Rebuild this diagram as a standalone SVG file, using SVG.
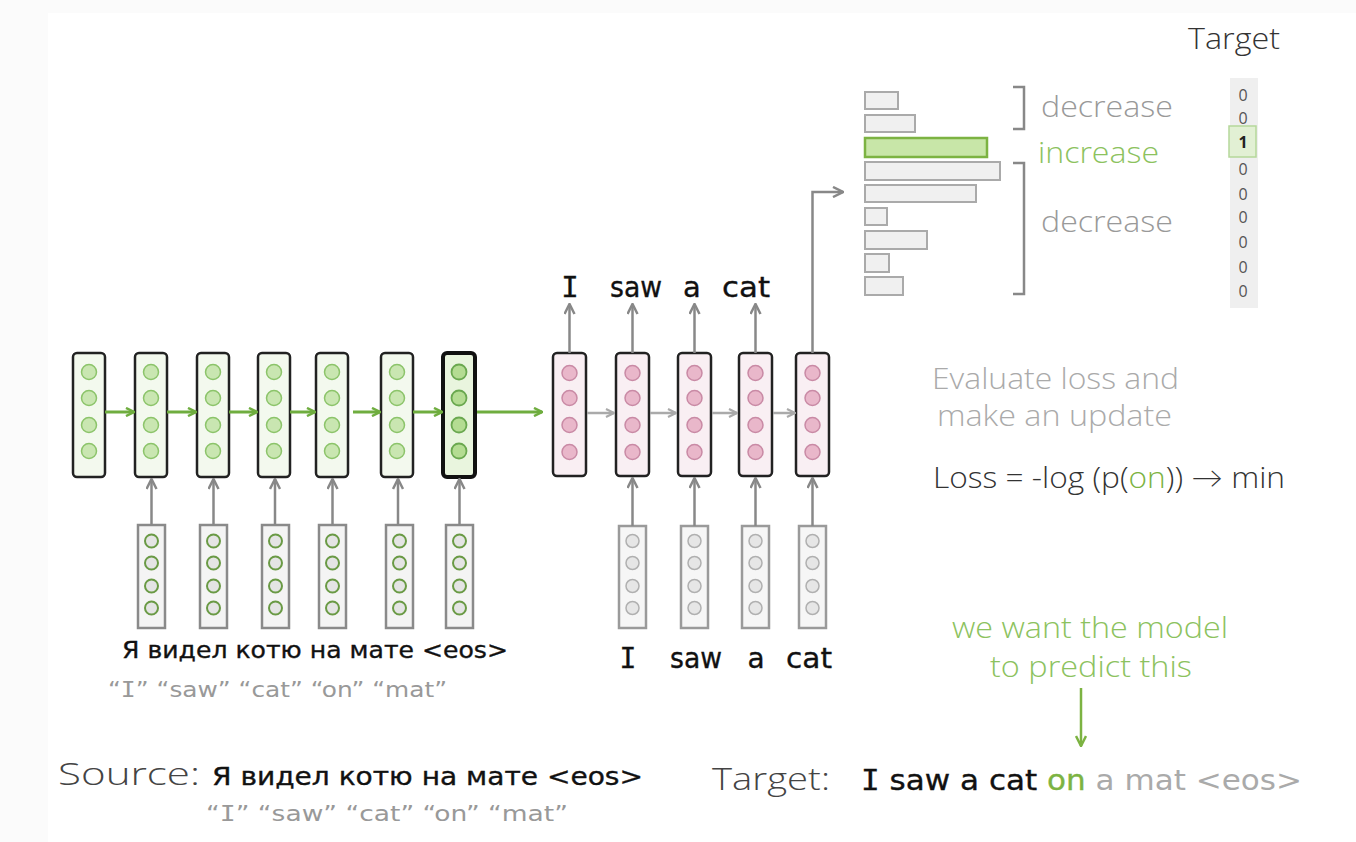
<svg xmlns="http://www.w3.org/2000/svg" width="1356" height="842" viewBox="0 0 1356 842">
<defs>
<style>
.comic{font-family:"DejaVu Sans","Liberation Sans",sans-serif;stroke-width:0.35px;}
.mono{font-family:"DejaVu Sans Mono","Liberation Mono",monospace;}
.light{font-family:"Open Sans","Lato","Liberation Sans",sans-serif;font-weight:300;}
.enc{fill:#f3f9ee;stroke:#222;stroke-width:2.5;}
.enclast{fill:#e9f5de;stroke:#111;stroke-width:4;}
.dec{fill:#f9eff3;stroke:#222;stroke-width:2.5;}
.gc{fill:#c9e6b1;stroke:#8cc46a;stroke-width:1.5;}
.gcd{fill:#b4dc92;stroke:#6aa84f;stroke-width:1.8;}
.pc{fill:#e9b7ca;stroke:#c98aa5;stroke-width:1.5;}
.inE{fill:#f4f4f4;stroke:#8a8a8a;stroke-width:2.5;}
.inD{fill:#f6f6f6;stroke:#9a9a9a;stroke-width:2.5;}
.ec{fill:#e4e4e4;stroke:#6a9a45;stroke-width:2;}
.dc{fill:#e6e6e6;stroke:#b0b0b0;stroke-width:1.5;}
.ga{stroke:#6fad3f;stroke-width:3;fill:none;marker-end:url(#ag);}
.gra{stroke:#aaaaaa;stroke-width:2.5;fill:none;marker-end:url(#agr);}
.up{stroke:#888;stroke-width:2.5;fill:none;marker-end:url(#aup);}
.bar{fill:#f0f0f0;stroke:#aaa;stroke-width:2;}
.brk{fill:none;stroke:#888;stroke-width:2.5;}
.zero{font-family:"Open Sans","Liberation Sans",sans-serif;font-size:16px;fill:#555;text-anchor:middle;}
</style>
<marker id="ag" viewBox="0 0 10 10" refX="9" refY="5" markerWidth="10" markerHeight="10" markerUnits="userSpaceOnUse" orient="auto">
<path d="M1,1 L9,5 L1,9" fill="none" stroke="#6fad3f" stroke-width="2.5"/>
</marker>
<marker id="agr" viewBox="0 0 10 10" refX="9" refY="5" markerWidth="10" markerHeight="10" markerUnits="userSpaceOnUse" orient="auto">
<path d="M1,1 L9,5 L1,9" fill="none" stroke="#aaaaaa" stroke-width="2.2"/>
</marker>
<marker id="aup" viewBox="0 0 12 12" refX="11" refY="6" markerWidth="12" markerHeight="12" markerUnits="userSpaceOnUse" orient="auto">
<path d="M1,1 L11,6 L1,11" fill="none" stroke="#888" stroke-width="2.5"/>
</marker>
<marker id="adn" viewBox="0 0 12 12" refX="11" refY="6" markerWidth="12" markerHeight="12" markerUnits="userSpaceOnUse" orient="auto">
<path d="M1,1 L11,6 L1,11" fill="none" stroke="#7cb342" stroke-width="2.5"/>
</marker>
</defs>

<rect x="0" y="0" width="1356" height="842" fill="#fbfbfb"/>
<rect x="48" y="13" width="1308" height="829" fill="#ffffff"/>

<!-- encoder hidden cells -->
<g id="enc1"><rect class="enc" x="73" y="353" width="32" height="124" rx="4"/><circle class="gc" cx="89" cy="372" r="7.5"/><circle class="gc" cx="89" cy="398" r="7.5"/><circle class="gc" cx="89" cy="425" r="7.5"/><circle class="gc" cx="89" cy="451" r="7.5"/></g>
<g id="enc2"><rect class="enc" x="135" y="353" width="32" height="124" rx="4"/><circle class="gc" cx="151" cy="372" r="7.5"/><circle class="gc" cx="151" cy="398" r="7.5"/><circle class="gc" cx="151" cy="425" r="7.5"/><circle class="gc" cx="151" cy="451" r="7.5"/></g>
<g id="enc3"><rect class="enc" x="197" y="353" width="32" height="124" rx="4"/><circle class="gc" cx="213" cy="372" r="7.5"/><circle class="gc" cx="213" cy="398" r="7.5"/><circle class="gc" cx="213" cy="425" r="7.5"/><circle class="gc" cx="213" cy="451" r="7.5"/></g>
<g id="enc4"><rect class="enc" x="258" y="353" width="32" height="124" rx="4"/><circle class="gc" cx="274" cy="372" r="7.5"/><circle class="gc" cx="274" cy="398" r="7.5"/><circle class="gc" cx="274" cy="425" r="7.5"/><circle class="gc" cx="274" cy="451" r="7.5"/></g>
<g id="enc5"><rect class="enc" x="316" y="353" width="32" height="124" rx="4"/><circle class="gc" cx="332" cy="372" r="7.5"/><circle class="gc" cx="332" cy="398" r="7.5"/><circle class="gc" cx="332" cy="425" r="7.5"/><circle class="gc" cx="332" cy="451" r="7.5"/></g>
<g id="enc6"><rect class="enc" x="381" y="353" width="32" height="124" rx="4"/><circle class="gc" cx="397" cy="372" r="7.5"/><circle class="gc" cx="397" cy="398" r="7.5"/><circle class="gc" cx="397" cy="425" r="7.5"/><circle class="gc" cx="397" cy="451" r="7.5"/></g>
<g id="enc7"><rect class="enclast" x="443" y="353" width="32" height="124" rx="4"/><circle class="gcd" cx="459" cy="372" r="7.5"/><circle class="gcd" cx="459" cy="398" r="7.5"/><circle class="gcd" cx="459" cy="425" r="7.5"/><circle class="gcd" cx="459" cy="451" r="7.5"/></g>

<!-- encoder inputs -->
<g id="ein1"><rect class="inE" x="138" y="525" width="27" height="103"/><circle class="ec" cx="151.5" cy="541" r="6.5"/><circle class="ec" cx="151.5" cy="563" r="6.5"/><circle class="ec" cx="151.5" cy="586" r="6.5"/><circle class="ec" cx="151.5" cy="608" r="6.5"/></g>
<g id="ein2"><rect class="inE" x="200" y="525" width="27" height="103"/><circle class="ec" cx="213.5" cy="541" r="6.5"/><circle class="ec" cx="213.5" cy="563" r="6.5"/><circle class="ec" cx="213.5" cy="586" r="6.5"/><circle class="ec" cx="213.5" cy="608" r="6.5"/></g>
<g id="ein3"><rect class="inE" x="262" y="525" width="27" height="103"/><circle class="ec" cx="275.5" cy="541" r="6.5"/><circle class="ec" cx="275.5" cy="563" r="6.5"/><circle class="ec" cx="275.5" cy="586" r="6.5"/><circle class="ec" cx="275.5" cy="608" r="6.5"/></g>
<g id="ein4"><rect class="inE" x="319" y="525" width="27" height="103"/><circle class="ec" cx="332.5" cy="541" r="6.5"/><circle class="ec" cx="332.5" cy="563" r="6.5"/><circle class="ec" cx="332.5" cy="586" r="6.5"/><circle class="ec" cx="332.5" cy="608" r="6.5"/></g>
<g id="ein5"><rect class="inE" x="386" y="525" width="27" height="103"/><circle class="ec" cx="399.5" cy="541" r="6.5"/><circle class="ec" cx="399.5" cy="563" r="6.5"/><circle class="ec" cx="399.5" cy="586" r="6.5"/><circle class="ec" cx="399.5" cy="608" r="6.5"/></g>
<g id="ein6"><rect class="inE" x="446" y="525" width="27" height="103"/><circle class="ec" cx="459.5" cy="541" r="6.5"/><circle class="ec" cx="459.5" cy="563" r="6.5"/><circle class="ec" cx="459.5" cy="586" r="6.5"/><circle class="ec" cx="459.5" cy="608" r="6.5"/></g>

<!-- decoder hidden cells -->
<g id="dec1"><rect class="dec" x="553" y="353" width="33" height="123" rx="4"/><circle class="pc" cx="569.5" cy="373" r="7.5"/><circle class="pc" cx="569.5" cy="398" r="7.5"/><circle class="pc" cx="569.5" cy="425" r="7.5"/><circle class="pc" cx="569.5" cy="452" r="7.5"/></g>
<g id="dec2"><rect class="dec" x="616" y="353" width="33" height="123" rx="4"/><circle class="pc" cx="632.5" cy="373" r="7.5"/><circle class="pc" cx="632.5" cy="398" r="7.5"/><circle class="pc" cx="632.5" cy="425" r="7.5"/><circle class="pc" cx="632.5" cy="452" r="7.5"/></g>
<g id="dec3"><rect class="dec" x="678" y="353" width="33" height="123" rx="4"/><circle class="pc" cx="694.5" cy="373" r="7.5"/><circle class="pc" cx="694.5" cy="398" r="7.5"/><circle class="pc" cx="694.5" cy="425" r="7.5"/><circle class="pc" cx="694.5" cy="452" r="7.5"/></g>
<g id="dec4"><rect class="dec" x="739" y="353" width="33" height="123" rx="4"/><circle class="pc" cx="755.5" cy="373" r="7.5"/><circle class="pc" cx="755.5" cy="398" r="7.5"/><circle class="pc" cx="755.5" cy="425" r="7.5"/><circle class="pc" cx="755.5" cy="452" r="7.5"/></g>
<g id="dec5"><rect class="dec" x="796" y="353" width="33" height="123" rx="4"/><circle class="pc" cx="812.5" cy="373" r="7.5"/><circle class="pc" cx="812.5" cy="398" r="7.5"/><circle class="pc" cx="812.5" cy="425" r="7.5"/><circle class="pc" cx="812.5" cy="452" r="7.5"/></g>

<!-- decoder inputs -->
<g id="din1"><rect class="inD" x="619" y="526" width="27" height="102"/><circle class="dc" cx="632.5" cy="541" r="6.5"/><circle class="dc" cx="632.5" cy="563" r="6.5"/><circle class="dc" cx="632.5" cy="586" r="6.5"/><circle class="dc" cx="632.5" cy="608" r="6.5"/></g>
<g id="din2"><rect class="inD" x="681" y="526" width="27" height="102"/><circle class="dc" cx="694.5" cy="541" r="6.5"/><circle class="dc" cx="694.5" cy="563" r="6.5"/><circle class="dc" cx="694.5" cy="586" r="6.5"/><circle class="dc" cx="694.5" cy="608" r="6.5"/></g>
<g id="din3"><rect class="inD" x="742" y="526" width="27" height="102"/><circle class="dc" cx="755.5" cy="541" r="6.5"/><circle class="dc" cx="755.5" cy="563" r="6.5"/><circle class="dc" cx="755.5" cy="586" r="6.5"/><circle class="dc" cx="755.5" cy="608" r="6.5"/></g>
<g id="din4"><rect class="inD" x="799" y="526" width="27" height="102"/><circle class="dc" cx="812.5" cy="541" r="6.5"/><circle class="dc" cx="812.5" cy="563" r="6.5"/><circle class="dc" cx="812.5" cy="586" r="6.5"/><circle class="dc" cx="812.5" cy="608" r="6.5"/></g>

<!-- connectors -->
<g id="connectors">
<line class="ga" x1="105" y1="412" x2="134" y2="412"/>
<line class="ga" x1="167" y1="412" x2="196" y2="412"/>
<line class="ga" x1="229" y1="412" x2="257" y2="412"/>
<line class="ga" x1="290" y1="412" x2="315" y2="412"/>
<line class="ga" x1="353" y1="412" x2="380" y2="412"/>
<line class="ga" x1="413" y1="412" x2="442" y2="412"/>
<line class="ga" x1="477" y1="412" x2="542" y2="412"/>
<line class="gra" x1="587" y1="413" x2="614" y2="413"/>
<line class="gra" x1="650" y1="413" x2="676" y2="413"/>
<line class="gra" x1="712" y1="413" x2="737" y2="413"/>
<line class="gra" x1="773" y1="413" x2="795" y2="413"/>
<line class="up" x1="151.5" y1="525" x2="151.5" y2="479"/>
<line class="up" x1="213.5" y1="525" x2="213.5" y2="479"/>
<line class="up" x1="275" y1="525" x2="275" y2="479"/>
<line class="up" x1="332.5" y1="525" x2="332.5" y2="479"/>
<line class="up" x1="398" y1="525" x2="398" y2="479"/>
<line class="up" x1="459.5" y1="525" x2="459.5" y2="479"/>
<line class="up" x1="632.5" y1="526" x2="632.5" y2="478"/>
<line class="up" x1="694.5" y1="526" x2="694.5" y2="478"/>
<line class="up" x1="755.5" y1="526" x2="755.5" y2="478"/>
<line class="up" x1="812.5" y1="526" x2="812.5" y2="478"/>
<line class="up" x1="569.5" y1="353" x2="569.5" y2="304"/>
<line class="up" x1="632.5" y1="353" x2="632.5" y2="304"/>
<line class="up" x1="694.5" y1="353" x2="694.5" y2="304"/>
<line class="up" x1="755.5" y1="353" x2="755.5" y2="304"/>
<path class="up" d="M812.5,353 V192 H843"/>
<line x1="1081" y1="688" x2="1081" y2="746" stroke="#7cb342" stroke-width="2.5" marker-end="url(#adn)"/>
</g>

<!-- decoder output words -->
<g id="outwords" class="comic" font-size="29" fill="#111" stroke="#111">
<text class="mono" x="570" y="297" text-anchor="middle">I</text>
<text x="636" y="297" text-anchor="middle" textLength="52" lengthAdjust="spacingAndGlyphs">saw</text>
<text x="692" y="297" text-anchor="middle">a</text>
<text x="746" y="297" text-anchor="middle" textLength="48" lengthAdjust="spacingAndGlyphs">cat</text>
</g>

<!-- decoder input words -->
<g id="inwords" class="comic" font-size="28" fill="#111" stroke="#111">
<text class="mono" x="628" y="668" text-anchor="middle">I</text>
<text x="696" y="668" text-anchor="middle" textLength="52" lengthAdjust="spacingAndGlyphs">saw</text>
<text x="756" y="668" text-anchor="middle">a</text>
<text x="809" y="668" text-anchor="middle" textLength="46" lengthAdjust="spacingAndGlyphs">cat</text>
</g>

<!-- source under encoder -->
<g id="srcwords" class="comic">
<text x="122" y="658" font-size="23" fill="#111" stroke="#111" textLength="386" lengthAdjust="spacingAndGlyphs">Я видел котю на мате &lt;eos&gt;</text>
<text x="108" y="697" font-size="21" fill="#999" textLength="339" lengthAdjust="spacingAndGlyphs">“<tspan class="mono">I</tspan>” “saw” “cat” “on” “mat”</text>
</g>

<!-- histogram -->
<g id="histogram">
<rect class="bar" x="865" y="92" width="33" height="17"/>
<rect class="bar" x="865" y="115" width="50" height="17"/>
<rect x="865" y="138" width="122" height="19" fill="#c8e6a8" stroke="#7cb342" stroke-width="2.5"/>
<rect class="bar" x="865" y="162" width="135" height="18"/>
<rect class="bar" x="865" y="185" width="111" height="17"/>
<rect class="bar" x="865" y="208" width="22" height="17"/>
<rect class="bar" x="865" y="231" width="62" height="18"/>
<rect class="bar" x="865" y="254" width="24" height="18"/>
<rect class="bar" x="865" y="277" width="38" height="18"/>
</g>

<g id="brackets">
<path class="brk" d="M1013,87 H1024 V129 H1013"/>
<path class="brk" d="M1013,163 H1024 V294 H1013"/>
<text class="light" x="1041" y="117" font-size="29" fill="#999" textLength="132" lengthAdjust="spacingAndGlyphs">decrease</text>
<text class="light" x="1038" y="163" font-size="29" fill="#8cc25e" textLength="121" lengthAdjust="spacingAndGlyphs">increase</text>
<text class="light" x="1041" y="232" font-size="29" fill="#999" textLength="132" lengthAdjust="spacingAndGlyphs">decrease</text>
</g>

<!-- target vector -->
<g id="target">
<text class="light" x="1188" y="49" font-size="29" fill="#333" textLength="92" lengthAdjust="spacingAndGlyphs">Target</text>
<rect x="1230" y="78" width="28" height="230" fill="#efefef"/>
<rect x="1229" y="126" width="27" height="31" fill="#e2f0d4" stroke="#b5d89a" stroke-width="1.5"/>
<text class="zero" x="1243" y="101">0</text>
<text class="zero" x="1243" y="124">0</text>
<text x="1243" y="148" font-family="Open Sans,Liberation Sans,sans-serif" font-size="16" font-weight="bold" fill="#222" text-anchor="middle">1</text>
<text class="zero" x="1243" y="175">0</text>
<text class="zero" x="1243" y="200">0</text>
<text class="zero" x="1243" y="223">0</text>
<text class="zero" x="1243" y="248">0</text>
<text class="zero" x="1243" y="273">0</text>
<text class="zero" x="1243" y="297">0</text>
</g>

<!-- loss texts -->
<g id="loss" class="light">
<text x="932" y="389" font-size="29" fill="#aaa" textLength="247" lengthAdjust="spacingAndGlyphs">Evaluate loss and</text>
<text x="937" y="426" font-size="29" fill="#aaa" textLength="235" lengthAdjust="spacingAndGlyphs">make an update</text>
<text x="933" y="488" font-size="29" fill="#333" textLength="352" lengthAdjust="spacingAndGlyphs">Loss = -log (p(<tspan fill="#7cb342">on</tspan>)) → min</text>
</g>

<!-- annotation -->
<g id="note" class="light" fill="#8cc25e" font-size="29">
<text x="952" y="638" textLength="276" lengthAdjust="spacingAndGlyphs">we want the model</text>
<text x="990" y="677" textLength="202" lengthAdjust="spacingAndGlyphs">to predict this</text>
</g>

<!-- bottom source / target -->
<g id="bottom">
<text class="light" x="58" y="785" font-size="31" fill="#444" textLength="142" lengthAdjust="spacingAndGlyphs">Source:</text>
<text class="comic" x="212" y="785" font-size="24" fill="#111" stroke="#111" textLength="431" lengthAdjust="spacingAndGlyphs">Я видел котю на мате &lt;eos&gt;</text>
<text class="comic" x="206" y="821" font-size="21" fill="#999" textLength="362" lengthAdjust="spacingAndGlyphs">“<tspan class="mono">I</tspan>”  “saw” “cat”  “on” “mat”</text>
<text class="light" x="712" y="790" font-size="31" fill="#444" textLength="118" lengthAdjust="spacingAndGlyphs">Target:</text>
<text class="comic" x="861" y="790" font-size="28" fill="#111" stroke="#111" textLength="441" lengthAdjust="spacingAndGlyphs"><tspan class="mono">I</tspan> saw a cat <tspan fill="#7cb342" stroke="#7cb342">on</tspan> <tspan fill="#aaa" stroke="none">a mat &lt;eos&gt;</tspan></text>
</g>
</svg>
